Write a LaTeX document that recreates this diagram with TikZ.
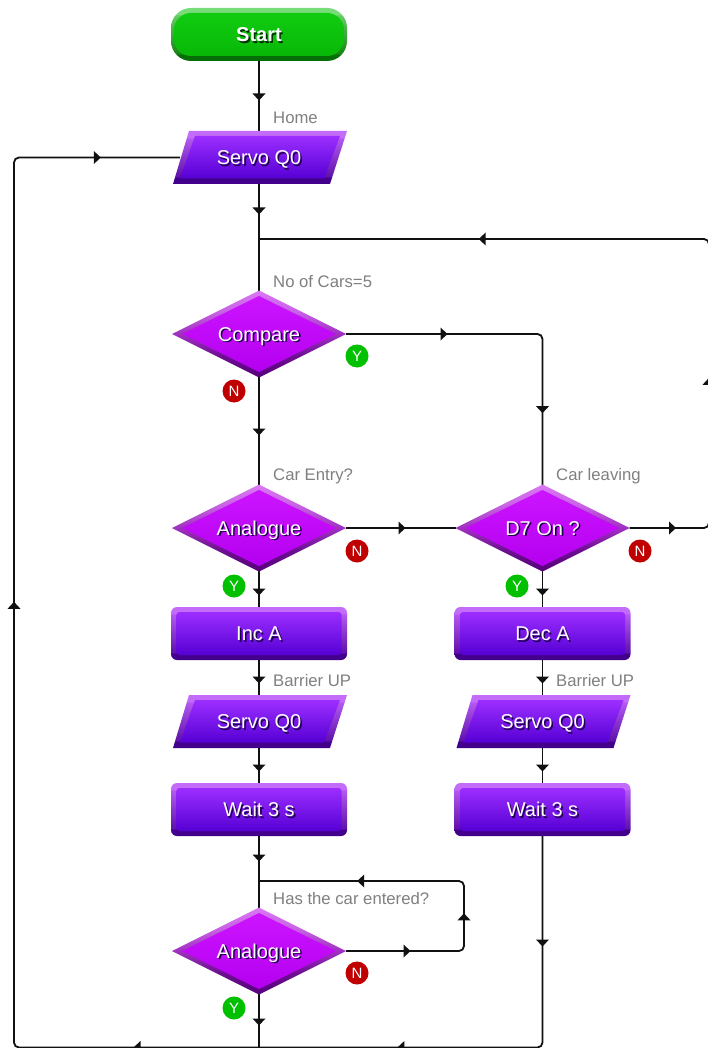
\documentclass[tikz,border=0pt]{standalone}
\usepackage{fontspec}
\setmainfont{Liberation Sans}
\usetikzlibrary{backgrounds,decorations.markings}
\definecolor{lineblk}{HTML}{111111}
\definecolor{labelgray}{HTML}{808080}
\definecolor{shadowc}{HTML}{200050}
\definecolor{shadowg}{HTML}{003000}
\definecolor{nred}{HTML}{C00000}
\definecolor{ygreen}{HTML}{00C000}
\definecolor{pL}{HTML}{C46CFA}\definecolor{pM}{HTML}{8A2CD8}\definecolor{pD}{HTML}{43008C}
\definecolor{pT}{HTML}{9C2EFF}\definecolor{pB}{HTML}{5600D4}
\definecolor{dL}{HTML}{DA78F4}\definecolor{dM}{HTML}{A030C0}\definecolor{dD}{HTML}{56007C}
\definecolor{dT}{HTML}{CC14FF}\definecolor{dB}{HTML}{B400F0}
\definecolor{gL}{HTML}{78DC78}\definecolor{gM}{HTML}{30A830}\definecolor{gD}{HTML}{056E05}
\definecolor{gT}{HTML}{10CC10}\definecolor{gB}{HTML}{08B808}
\pgfdeclareverticalshading{bevP}{100bp}{color(0bp)=(pD);color(25bp)=(pD);color(31bp)=(pD);color(32bp)=(pD!60!pM);color(68bp)=(pL!70!pM);color(69bp)=(pL);color(75bp)=(pL);color(100bp)=(pL)}
\pgfdeclareverticalshading{bevD}{100bp}{color(0bp)=(dD);color(25bp)=(dD);color(37bp)=(dD!70!dM);color(50bp)=(dM);color(63bp)=(dL!70!dM);color(75bp)=(dL);color(100bp)=(dL)}
\pgfdeclareverticalshading{bevG}{100bp}{color(0bp)=(gD);color(25bp)=(gD);color(31bp)=(gD);color(32bp)=(gD!60!gM);color(68bp)=(gL!70!gM);color(69bp)=(gL);color(75bp)=(gL);color(100bp)=(gL)}
\tikzset{
 x=1pt,y=-1pt,
 flow/.style={draw=lineblk,line width=1.8pt,rounded corners=5pt},
 tipfwd/.style={postaction={decorate,decoration={markings,mark=at position #1pt with
   {\fill[lineblk,sharp corners] (-3.5,-6.5) -- (-3.5,6.5) -- (3.5,0) -- cycle;}}}},
 anchorbox/.style={minimum width=176pt,minimum height=53pt,inner sep=0pt,outer sep=0pt,text=white,font=\fontsize{20}{22}\selectfont},
 iotext/.style={anchorbox,minimum width=158pt},
 diabox/.style={minimum width=174pt,minimum height=86pt,inner sep=0pt,outer sep=0pt,text=white,font=\fontsize{20}{22}\selectfont},
 flabel/.style={anchor=west,inner sep=0pt,text=labelgray,font=\fontsize{16.7}{20}\selectfont},
 badge/.style={circle,minimum size=23pt,inner sep=0pt,text=white,font=\fontsize{15}{18}\selectfont},
 nbadge/.style={badge,fill=nred},
 ybadge/.style={badge,fill=ygreen},
}
\newcommand{\shtext}[2][shadowc]{\raisebox{-7.2pt}[0pt][0pt]{\rlap{\kern1.6pt\raisebox{-1.6pt}{\textcolor{#1}{#2}}}#2}}
\newcommand{\procbox}[4]{%
 \path[shading=bevP,rounded corners=6pt] (#2-88,#3-26.5) rectangle (#2+88,#3+26.5);
 \path[top color=pT,bottom color=pB,rounded corners=3pt] (#2-82.5,#3-21.5) rectangle (#2+82.5,#3+21.5);
 \node[anchorbox] (#1) at (#2,#3) {\shtext{#4}};}
\newcommand{\iobox}[4]{%
 \path[shading=bevP] (#2-70,#3-26.5) -- (#2+88,#3-26.5) -- (#2+71,#3+26.5) -- (#2-86,#3+26.5) -- cycle;
 \path[top color=pT,bottom color=pB] (#2-64,#3-21.5) -- (#2+81,#3-21.5) -- (#2+65,#3+21) -- (#2-79,#3+21) -- cycle;
 \node[iotext] (#1) at (#2,#3) {\shtext{#4}};}
\newcommand{\decbox}[4]{%
 \path[shading=bevD] (#2-87,#3) -- (#2,#3-43.5) -- (#2+87,#3) -- (#2,#3+43.5) -- cycle;
 \path[top color=dT,bottom color=dB] (#2-77,#3) -- (#2,#3-38) -- (#2+77,#3) -- (#2,#3+38) -- cycle;
 \node[diabox] (#1) at (#2,#3) {\shtext{#4}};}
\begin{document}
\begin{tikzpicture}
\useasboundingbox (0,0) rectangle (708,1048);
% start
\path[shading=bevG,rounded corners=20pt] (171,8) rectangle (347,61);
\path[top color=gT,bottom color=gB,rounded corners=17pt] (174,13) rectangle (344,56);
\node[anchorbox,font=\fontsize{20}{22}\selectfont\bfseries] (start) at (259,34.5) {\shtext[shadowg]{Start}};
\iobox{servoa}{259}{157.5}{Servo Q0}
\decbox{compare}{259}{334}{Compare}
\decbox{anaa}{259}{528}{Analogue}
\decbox{dseven}{542.5}{528}{D7 On ?}
\procbox{inca}{259}{633.5}{Inc A}
\procbox{deca}{542.5}{633.5}{Dec A}
\iobox{servob}{259}{721.5}{Servo Q0}
\iobox{servoc}{542.5}{721.5}{Servo Q0}
\procbox{waita}{259}{809.5}{Wait 3 s}
\procbox{waitb}{542.5}{809.5}{Wait 3 s}
\decbox{anab}{259}{951}{Analogue}
% labels
\node[flabel] (l1) at (273,117.5) {Home};
\node[flabel] (l2) at (273,281.5) {No of Cars=5};
\node[flabel] (l3) at (273,476.5) {Car Entry?};
\node[flabel] (l4) at (556,476.5) {Car leaving};
\node[flabel] (l5) at (273,680.5) {Barrier UP};
\node[flabel] (l6) at (556,680.5) {Barrier UP};
\node[flabel] (l7) at (273,898.5) {Has the car entered?};
% badges
\node[ybadge] (b1) at (357,356) {Y};
\node[nbadge] (b2) at (234,391) {N};
\node[nbadge] (b3) at (357,551) {N};
\node[ybadge] (b4) at (234,586) {Y};
\node[nbadge] (b5) at (640,551) {N};
\node[ybadge] (b6) at (517,586) {Y};
\node[nbadge] (b7) at (357,973) {N};
\node[ybadge] (b8) at (234,1008) {Y};
% junctions and bends
\coordinate (mtop) at (259,239);
\coordinate (rlow) at (709,528);
\coordinate (rtop) at (709,239);
\coordinate (cbend) at (542.5,334);
\coordinate (lpr) at (464,951);
\coordinate (lpt) at (464,881);
\coordinate (mloop) at (259,881);
\coordinate (mbot) at (259,1047.5);
\coordinate (bl) at (14,1047.5);
\coordinate (tl) at (14,157.5);
\coordinate (br) at (542.5,1047.5);
\begin{scope}[on background layer]
\fill[white] (0,0) rectangle (708,1048);
\clip (0,0) rectangle (708,1048);
\draw[flow,tipfwd=36] (start.south) -- (servoa.north);
\draw[flow,tipfwd=27] (servoa.south) -- (compare.north);
\draw[flow,tipfwd=43,tipfwd=224,tipfwd=591] (dseven.east) -- (rlow) -- (rtop) -- (mtop);
\draw[flow,tipfwd=98,tipfwd=270] (compare.east) -- (cbend) -- (dseven.north);
\draw[flow,tipfwd=55] (compare.south) -- (anaa.north);
\draw[flow,tipfwd=56] (anaa.east) -- (dseven.west);
\draw[flow,tipfwd=21] (anaa.south) -- (inca.north);
\draw[flow,tipfwd=20] (inca.south) -- (servob.north);
\draw[flow,tipfwd=20] (servob.south) -- (waita.north);
\draw[flow,tipfwd=22] (waita.south) -- (anab.north);
\draw[flow,tipfwd=61,tipfwd=150,tipfwd=287] (anab.east) -- (lpr) -- (lpt) -- (mloop);
\draw[flow,tipfwd=28] (anab.south) -- (mbot);
\draw[flow,tipfwd=122,tipfwd=685,tipfwd=1214] (mbot) -- (bl) -- (tl) -- (servoa.west);
\draw[flow,tipfwd=21] (dseven.south) -- (deca.north);
\draw[flow,tipfwd=20] (deca.south) -- (servoc.north);
\draw[flow,tipfwd=20] (servoc.south) -- (waitb.north);
\draw[flow,tipfwd=107,tipfwd=351] (waitb.south) -- (br) -- (mbot);
\end{scope}
\end{tikzpicture}
\end{document}
